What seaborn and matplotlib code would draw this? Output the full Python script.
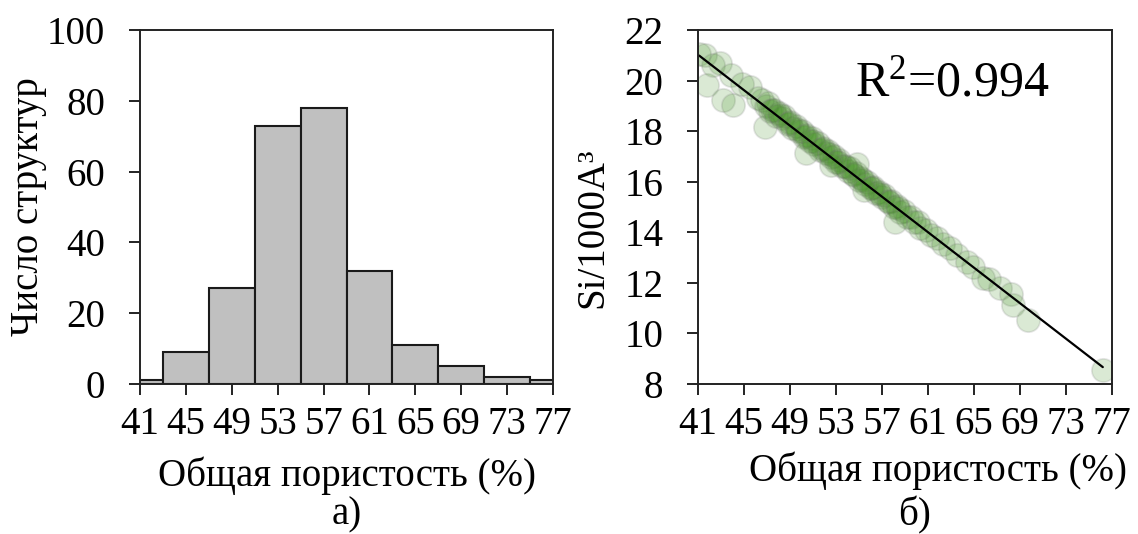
import matplotlib
matplotlib.use("Agg")
import matplotlib.pyplot as plt
import seaborn as sns

# ---------------- data ----------------
# histogram (a)
bin_centers = [41, 45, 49, 53, 57, 61, 65, 69, 73, 77]
bin_counts = [1, 9, 27, 73, 78, 32, 11, 5, 2, 1]
bin_edges = [39, 43, 47, 51, 55, 59, 63, 67, 71, 75, 79]
hist_yticks = [0, 20, 40, 60, 80, 100]
x_ticks = [41, 45, 49, 53, 57, 61, 65, 69, 73, 77]

# scatter (б): total porosity (%) vs Si per 1000 A^3
porosity = [
    41.1, 41.6, 41.75, 42.3, 42.9, 43.2, 43.9, 44.0, 44.8, 45.5, 46.2, 46.8,
    46.6, 46.9, 47.1, 47.3, 47.6, 47.8, 48.0, 48.3, 48.5, 48.8, 49.0, 49.2,
    49.5, 49.7, 50.0, 50.2, 50.4, 50.7, 50.9, 51.1, 51.4, 51.6, 51.9, 52.1,
    52.3, 52.6, 52.8, 53.0, 53.3, 53.5, 53.8, 54.0, 54.2, 54.5, 54.7, 55.0,
    55.2, 55.5, 55.7, 56.0, 56.2, 56.5, 56.7, 57.0, 57.2, 57.5, 57.8, 58.0,
    58.3, 58.6, 58.9, 59.2, 59.5, 59.8, 60.1,
    47.45, 48.15, 48.9, 49.6, 50.3, 51.0, 51.75, 52.45, 53.15, 53.9, 54.6,
    55.35, 56.1, 56.85, 57.6, 58.4,
    50.4, 52.6, 54.8, 55.4, 58.1,
    60.3, 60.8, 61.3, 61.75, 62.3, 62.9, 63.5, 64.4, 64.9, 65.8, 66.3, 67.3,
    68.2, 68.4, 69.7, 76.2,
]
si_density = [
    21.05, 21.00, 19.82, 20.62, 20.68, 19.23, 20.22, 19.03, 19.85, 19.76, 19.30, 18.18,
    19.25, 18.99, 19.12, 18.80, 18.84, 18.60, 18.73, 18.50, 18.59, 18.27, 18.35, 18.14,
    18.22, 17.99, 18.01, 17.75, 17.84, 17.60, 17.73, 17.51, 17.52, 17.27, 17.32, 17.12,
    17.22, 16.97, 17.00, 16.77, 16.85, 16.64, 16.64, 16.44, 16.55, 16.29, 16.34, 16.06,
    16.14, 15.91, 16.00, 15.76, 15.79, 15.54, 15.61, 15.39, 15.46, 15.22, 15.23, 15.01,
    15.04, 14.82, 14.84, 14.62, 14.60, 14.39, 14.40,
    18.83, 18.63, 18.33, 18.10, 17.80, 17.61, 17.30, 17.09, 16.79, 16.58, 16.28,
    16.06, 15.75, 15.53, 15.21, 14.97,
    17.15, 16.65, 16.70, 15.67, 14.42,
    14.17, 14.08, 13.90, 13.76, 13.55, 13.37, 13.12, 12.84, 12.62, 12.18, 12.15, 11.78,
    11.55, 11.12, 10.53, 8.55,
]
scatter_yticks = [8, 10, 12, 14, 16, 18, 20, 22]
r2_text = "R$^{\\mathrm{2}}$=0.994"

# ---------------- style ----------------
sns.set_style("ticks")
plt.rcParams["font.family"] = ["Liberation Serif", "DejaVu Serif"]
plt.rcParams["mathtext.fontset"] = "custom"
plt.rcParams["mathtext.rm"] = "Liberation Serif"
plt.rcParams["mathtext.it"] = "Liberation Serif:italic"
for key in ("text.color", "axes.labelcolor", "xtick.color", "ytick.color"):
    plt.rcParams[key] = "black"

FS = 28
W, H = 1138, 534
fig = plt.figure(figsize=(W / 100, H / 100), dpi=100)
ax1 = fig.add_axes([140 / W, 1 - 384 / H, 413 / W, 354 / H])
ax2 = fig.add_axes([698 / W, 1 - 384 / H, 414 / W, 354 / H])

# ---- (a) histogram ----
sns.histplot(x=bin_centers, weights=bin_counts, bins=bin_edges, ax=ax1,
             color="#c0c0c0", alpha=1, edgecolor="#1a1a1a", linewidth=1.5)
ax1.set_xlim(41, 77)
ax1.set_ylim(0, 100)
ax1.set_xticks(x_ticks)
ax1.set_yticks(hist_yticks)
ax1.set_xlabel("Общая пористость (%)", fontsize=FS)
ax1.set_ylabel("Число структур", fontsize=FS)

# ---- (б) scatter + regression ----
sns.regplot(x=porosity, y=si_density, ax=ax2, ci=None, truncate=True,
            scatter_kws=dict(s=280, color="#3f8f1e", alpha=0.19,
                             edgecolors="#7a7a7a", linewidths=1.3),
            line_kws=dict(color="black", lw=1.6))
ax2.set_xlim(41, 77)
ax2.set_ylim(8, 22)
ax2.set_xticks(x_ticks)
ax2.set_yticks(scatter_yticks)
ax2.set_xlabel("Общая пористость (%)", fontsize=FS)
ax2.set_ylabel("Si/1000A³", fontsize=FS)
ax2.text(54.65, 19.9, r2_text, fontsize=36, ha="left", va="center")

for ax in (ax1, ax2):
    for sp in ax.spines.values():
        sp.set_visible(True)
        sp.set_linewidth(1.4)
        sp.set_color("#222222")
    ax.tick_params(direction="out", length=8, width=1.4, color="#222222",
                   labelsize=FS, labelcolor="black", top=False, right=False)
    ax.tick_params(axis="x", pad=8)
    ax.tick_params(axis="y", pad=17)
    ax.grid(False)

ax1.xaxis.set_label_coords(0.5, -0.205)
ax2.xaxis.set_label_coords(0.58, -0.19)
ax1.yaxis.set_label_coords(-0.225, 0.5)
ax2.yaxis.set_label_coords(-0.21, 0.44)

fig.text(347 / W, 1 - 515 / H, "а)", fontsize=FS, ha="center", va="center")
fig.text(915 / W, 1 - 515 / H, "б)", fontsize=FS, ha="center", va="center")

fig.savefig("out.png", dpi=100)
